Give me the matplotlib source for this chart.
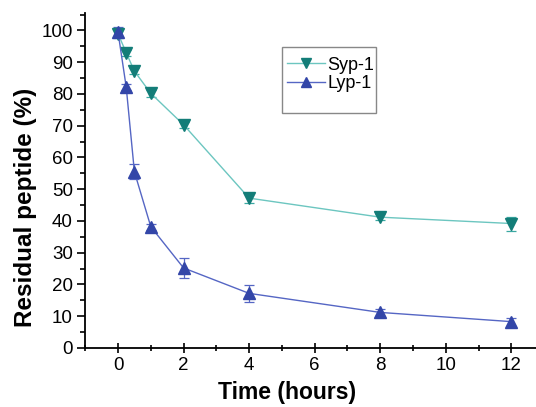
#!/usr/bin/env python3
import matplotlib

matplotlib.use("Agg")
import matplotlib.pyplot as plt
from matplotlib.lines import Line2D
from matplotlib.patches import Rectangle
from matplotlib.ticker import MultipleLocator

time_h = [0, 0.25, 0.5, 1, 2, 4, 8, 12]
syp = [99.0, 93.0, 87.2, 80.2, 70.3, 47.2, 41.2, 39.2]
syp_err = [1.5, 1.0, 1.0, 1.0, 1.0, 1.5, 1.0, 2.2]
lyp = [99.5, 82.2, 55.5, 38.2, 25.2, 17.2, 11.2, 8.3]
lyp_err = [1.5, 1.0, 2.3, 1.0, 3.0, 2.7, 1.0, 1.3]

SYP_LINE, SYP_MK = "#6cc6c0", "#137d78"
LYP_LINE, LYP_MK = "#5566c4", "#3346a8"

plt.rcParams.update({"font.family": ["Liberation Sans", "DejaVu Sans"], "font.size": 13})

fig = plt.figure(figsize=(5.36, 4.07), dpi=100)
ax = fig.add_axes([0.159, 0.145, 0.841, 0.823])

ax.errorbar(time_h, syp, yerr=syp_err, color=SYP_LINE, lw=1.0, marker="v", ms=8,
            mfc=SYP_MK, mec=SYP_MK, ecolor="#3aa8a2", elinewidth=0.9, capsize=3.5,
            capthick=0.9)
ax.errorbar(time_h, lyp, yerr=lyp_err, color=LYP_LINE, lw=1.0, marker="^", ms=8,
            mfc=LYP_MK, mec=LYP_MK, ecolor=LYP_LINE, elinewidth=0.9, capsize=3.5,
            capthick=0.9)

ax.set_xlim(-1, 12.75)
ax.set_ylim(0, 105.5)
ax.xaxis.set_major_locator(MultipleLocator(2))
ax.xaxis.set_minor_locator(MultipleLocator(1))
ax.yaxis.set_major_locator(MultipleLocator(10))
ax.yaxis.set_minor_locator(MultipleLocator(5))
ax.tick_params(which="major", direction="out", length=6, width=1.2, labelsize=13.5, pad=3)
ax.tick_params(which="minor", direction="out", length=3.5, width=1.2)
ax.tick_params(axis="x", which="both", direction="inout", length=7)
ax.tick_params(axis="x", which="minor", length=4)

for s in ("top", "right"):
    ax.spines[s].set_visible(False)
for s in ("left", "bottom"):
    ax.spines[s].set_linewidth(1.3)

ax.set_xlabel("Time (hours)", fontsize=16.5, fontweight="bold", va="center")
ax.set_ylabel("Residual peptide (%)", fontsize=17.5, fontweight="bold", va="center")
ax.xaxis.set_label_coords(0.448, -0.134)
ax.yaxis.set_label_coords(-0.133, 0.42)

# legend: line+marker handles, frame drawn taller than the entries
handles = [
    Line2D([], [], color=SYP_LINE, lw=1.0, marker="v", ms=6.5, mfc=SYP_MK, mec=SYP_MK),
    Line2D([], [], color=LYP_LINE, lw=1.0, marker="^", ms=6.5, mfc=LYP_MK, mec=LYP_MK),
]
ax.legend(handles, ["Syp-1", "Lyp-1"], loc="upper left", bbox_to_anchor=(0.535, 0.861),
          bbox_transform=fig.transFigure, fontsize=13, frameon=False, borderpad=0,
          handlelength=2.1, handletextpad=0.15, labelspacing=0.1, borderaxespad=0)
fig.patches.append(Rectangle((282 / 536, 1 - 113 / 407), 94 / 536, 66 / 407,
                             transform=fig.transFigure, fill=False, edgecolor="#888888",
                             lw=1.0))

fig.savefig("out.png", dpi=100)
